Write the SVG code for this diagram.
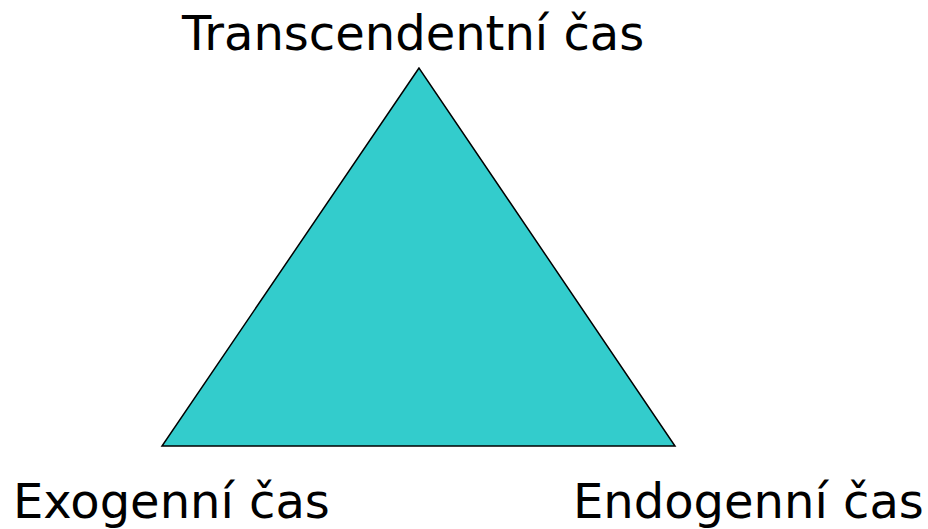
<svg xmlns="http://www.w3.org/2000/svg" width="928" height="529" viewBox="0 0 928 529">
<style>
.lbl{font-family:"DejaVu Sans","Verdana",sans-serif;font-size:48px;fill:#000}
.tri{fill:#33CCCC;stroke:#000;stroke-width:1.5;stroke-linejoin:miter}
</style>
<rect width="928" height="529" fill="#fff"/>
<g id="triangle">
<polygon class="tri" points="419,68 162,446 675,446"/>
</g>
<g id="connectors"></g>
<g id="top"><text class="lbl" x="182" y="50">Transcendentní čas</text></g>
<g id="left"><text class="lbl" x="13" y="518">Exogenní čas</text></g>
<g id="right"><text class="lbl" x="573" y="518">Endogenní čas</text></g>
</svg>
